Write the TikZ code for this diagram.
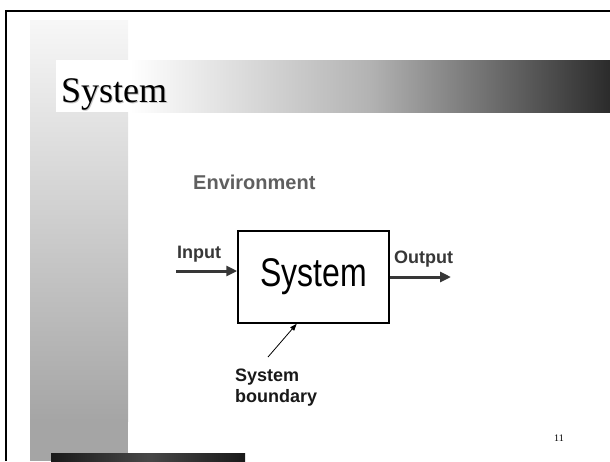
\documentclass[tikz,border=0pt]{standalone}
\usepackage{fontspec}
\setmainfont{Liberation Serif}
\setsansfont{Liberation Sans}
\usetikzlibrary{arrows.meta,calc}
\definecolor{cEnv}{RGB}{95,95,95}
\definecolor{cFlow}{RGB}{55,55,55}
\definecolor{cBarLow}{RGB}{165,165,165}
\definecolor{cTitleDark}{RGB}{43,43,43}

\begin{document}
\begin{tikzpicture}[x=1pt,y=-1pt,
    lbl/.style={inner sep=0pt,anchor=base west,font=\sffamily\bfseries\fontsize{18}{21}\selectfont},
    flow/.style={line width=3pt,draw=cFlow,-{Triangle[length=11pt,width=10pt]}}]
        \useasboundingbox (0,0) rectangle (610,461);
        % slide background
        \shade[top color=white!97!black, bottom color=cBarLow] (30,20) rectangle (128,421);
        \fill[cBarLow] (30,420) rectangle (128,461);
        \fill[white] (56,60) rectangle (131,112);
        \shade[left color=white, right color=cTitleDark, middle color=black!30] (130,60) rectangle (610,112);
        \shade[left color=black!90, right color=black!90, middle color=black!72] (51,453) rectangle (245,461);
        \draw[line width=2pt] (6,461) -- (6,11) -- (610,11);
        \node[inner sep=0pt,anchor=base west,text=black!22,font=\fontsize{36}{36}\selectfont] at (62,103) {System};
        \node[inner sep=0pt,anchor=base west,font=\fontsize{36}{36}\selectfont] (title) at (61,102) {System};
        \node[font=\fontsize{10}{12}\selectfont] (pageNo) at (559,438) {11};
        
        % system and its surroundings
        \node[lbl,text=cEnv,font=\sffamily\bfseries\fontsize{20}{24}\selectfont] (env) at (193,189) {Environment};
        \node[draw,line width=1.5pt,minimum width=151pt,minimum height=92pt,inner sep=0pt,font=\sffamily\fontsize{40}{40}\selectfont] (box) at (313.5,277) {\scalebox{0.8}[1]{System}};
        
        \node[lbl,text=cFlow] (inLbl) at (177,258) {Input};
        \coordinate (inTail) at (176,271);
        \draw[flow] (inTail) -- (inTail -| box.west);
        
        \node[lbl,text=cFlow] (outLbl) at (394,263) {Output};
        \coordinate (outTip) at (451,277);
        \draw[flow] (box.east) -- (outTip);
        
        \node[lbl,text=black!90,align=left,anchor=north west] (bndLbl) at (235,369) {System\\boundary};
        \coordinate (bndTail) at (268,357);
        \draw[line width=0.8pt,-{Triangle[length=7pt,width=5pt]}] (bndTail) -- ($(box.south west)!0.39!(box.south east)$);
    \end{tikzpicture}
\end{document}
